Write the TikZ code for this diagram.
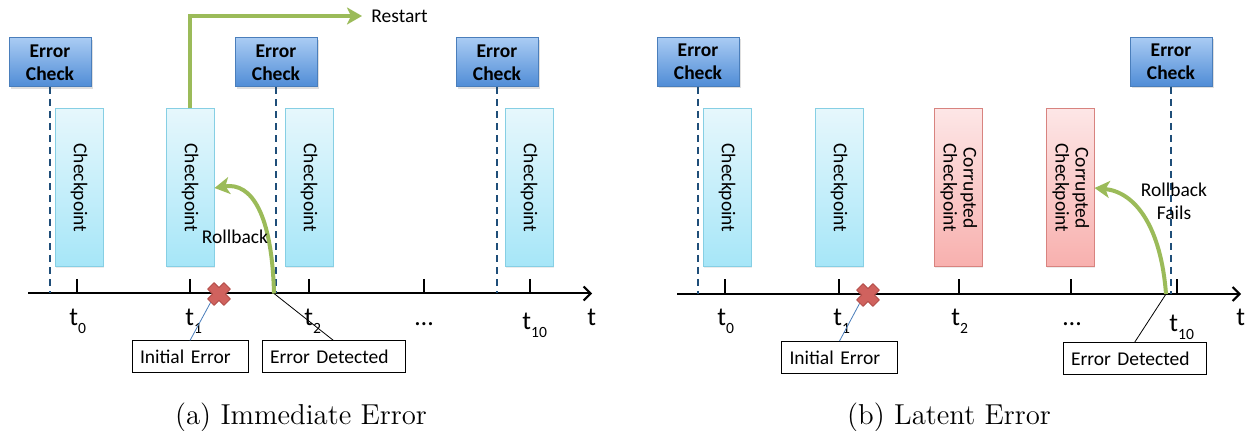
\documentclass[tikz,border=0pt]{standalone}
\usepackage{fontspec}
\usepackage{graphicx}
\newfontfamily\calfont{Carlito}
\usetikzlibrary{arrows.meta,shadows}

\definecolor{ecTop}{HTML}{A9CBF3}
\definecolor{ecBot}{HTML}{4F8CD6}
\definecolor{ecLine}{HTML}{4A7EBB}
\definecolor{cpTop}{HTML}{E6F7FC}
\definecolor{cpBot}{HTML}{A6E6F8}
\definecolor{cpLine}{HTML}{86CFE4}
\definecolor{rcTop}{HTML}{FDE6E6}
\definecolor{rcBot}{HTML}{F8B0AE}
\definecolor{rcLine}{HTML}{D8837F}
\definecolor{dashBlue}{HTML}{1F4E79}
\definecolor{arrGreen}{HTML}{9BBB59}
\definecolor{xFill}{HTML}{D0625E}
\definecolor{xLine}{HTML}{B5504C}

% lowered index after a time label
\newcommand\ticksub[1]{\raisebox{-3.8pt}{\fontsize{7.8}{7.8}\selectfont #1}}

\begin{document}
\begin{tikzpicture}[x=0.5pt,y=-0.5pt,
  errcheck/.style={draw=ecLine, line width=0.5pt, top color=ecTop, bottom color=ecBot,
    minimum width=41pt, minimum height=24.5pt, inner sep=0pt, align=center,
    font=\calfont\bfseries\fontsize{9.75}{11.5}\selectfont,
    drop shadow={shadow xshift=0.8pt, shadow yshift=-0.8pt, opacity=0.25}},
  cpbox/.style={draw=cpLine, line width=0.5pt, top color=cpTop, bottom color=cpBot,
    minimum width=24pt, minimum height=79pt, inner sep=0pt,
    font=\calfont\fontsize{9.75}{11}\selectfont,
    drop shadow={shadow xshift=0.6pt, shadow yshift=-0.6pt, opacity=0.15}},
  badbox/.style={cpbox, draw=rcLine, top color=rcTop, bottom color=rcBot},
  callout/.style={draw=black, line width=0.5pt, fill=white, minimum height=16pt,
    inner xsep=4pt, inner ysep=0pt, align=left,
    font=\calfont\fontsize{9.75}{11}\selectfont},
  plain/.style={inner sep=0pt, font=\calfont\fontsize{9.75}{11.5}\selectfont},
  tlab/.style={anchor=base west, inner sep=0pt, font=\calfont\fontsize{13}{13}\selectfont},
  dots/.style={anchor=base, inner sep=0pt, font=\calfont\fontsize{13}{13}\selectfont},
  axisline/.style={line width=1pt, -{Straight Barb[length=3.5pt,width=7pt]}},
  tickmark/.style={line width=0.8pt},
  checkline/.style={dashBlue, line width=1pt, dash pattern=on 3.5pt off 2.5pt},
  flow/.style={arrGreen, line width=2pt, -{Stealth[length=7.5pt,width=8.5pt,inset=2pt]}},
  pointer/.style={line width=0.4pt},
  xnode/.style={shape=rectangle, minimum size=8pt, inner sep=0pt},
  xmark/.style={fill=xFill, draw=xLine, line width=0.5pt, line join=round},
  caption/.style={anchor=base, inner sep=0pt, font=\fontsize{14.4}{16}\selectfont}
]
\useasboundingbox (0,0) rectangle (1245,431);

% ---------------- (a) Immediate Error ----------------
\coordinate (a1s) at (28,293.5);
\coordinate (a1e) at (592,293.5);
\draw[axisline] (a1s) -- (a1e);
\foreach \x in {77,190,309,424,530} \draw[tickmark] (\x,279) -- (\x,293.5);

\node[errcheck] (ec1) at (50,62.5) {Error\\Check};
\node[errcheck] (ec2) at (276,62.5) {Error\\Check};
\node[errcheck] (ec3) at (497,62.5) {Error\\Check};
\foreach \n in {ec1,ec2,ec3} \draw[checkline] (\n.south) -- (\n.south |- a1s);

\node[cpbox] (cp1) at (79,188) {\rotatebox{-90}{Checkpoint}};
\node[cpbox] (cp2) at (190,188) {\rotatebox{-90}{Checkpoint}};
\node[cpbox] (cp3) at (309,188) {\rotatebox{-90}{Checkpoint}};
\node[cpbox] (cp4) at (529,188) {\rotatebox{-90}{Checkpoint}};

\node[tlab] (a1t0) at (69,326) {t\ticksub{0}};
\node[tlab] (a1t1) at (185,326) {t\ticksub{1}};
\node[tlab] (a1t2) at (304,326) {t\ticksub{2}};
\node[dots] (a1dd) at (424,326) {…};
\node[tlab] (a1t10) at (522,330) {t\ticksub{10}};
\node[tlab] (a1t) at (587,326) {t};

% restart path out of the checkpoint before the error
\node[plain, anchor=west, inner xsep=4.5pt] (rs) at (362,16) {Restart};
\draw[flow] (cp2.north) |- (rs.west);

% error marks and callouts
\node[callout, text width=50pt] (ie1) at (190,357) {Initial Error};
\node[callout, text width=63.5pt] (ed1) at (333.5,357) {Error Detected};
\node[xnode] (x1) at (219,294) {};
\coordinate (det1) at (274,293.5);
\draw[pointer, ecLine] (ie1.north) -- (x1.south west);
\draw[pointer] (ed1.north) -- (det1);
\filldraw[xmark, shift={(x1.center)}, rotate=45]
  (-4.5,-11.5) -- (4.5,-11.5) -- (4.5,-4.5) -- (11.5,-4.5) -- (11.5,4.5) -- (4.5,4.5)
  -- (4.5,11.5) -- (-4.5,11.5) -- (-4.5,4.5) -- (-11.5,4.5) -- (-11.5,-4.5) -- (-4.5,-4.5) -- cycle;

\draw[flow] (det1) .. controls (272,215) and (252,182) .. (cp2.east);
\node[plain] (rb1) at (235,237) {Rollback};

\node[caption] (capa) at (301,425) {(a) Immediate Error};

% ---------------- (b) Latent Error ----------------
\coordinate (a2s) at (677,294);
\coordinate (a2e) at (1241,294);
\draw[axisline] (a2s) -- (a2e);
\foreach \x in {725,839,959,1071,1177} \draw[tickmark] (\x,279.5) -- (\x,294);

\node[errcheck] (ec4) at (698,62) {Error\\Check};
\node[errcheck] (ec5) at (1171,62) {Error\\Check};
\foreach \n in {ec4,ec5} \draw[checkline] (\n.south) -- (\n.south |- a2s);

\node[cpbox] (cp5) at (727,188) {\rotatebox{-90}{Checkpoint}};
\node[cpbox] (cp6) at (839,188) {\rotatebox{-90}{Checkpoint}};
\node[badbox] (rc1) at (958,188) {\rotatebox{-90}{\begin{tabular}{@{}c@{}}Corrupted\\[-1pt]Checkpoint\end{tabular}}};
\node[badbox] (rc2) at (1070,188) {\rotatebox{-90}{\begin{tabular}{@{}c@{}}Corrupted\\[-1pt]Checkpoint\end{tabular}}};

\node[tlab] (a2t0) at (717,326) {t\ticksub{0}};
\node[tlab] (a2t1) at (833,326) {t\ticksub{1}};
\node[tlab] (a2t2) at (951,326) {t\ticksub{2}};
\node[dots] (a2dd) at (1072,326) {…};
\node[tlab] (a2t10) at (1169,332) {t\ticksub{10}};
\node[tlab] (a2t) at (1236,326) {t};

\node[callout, text width=50pt] (ie2) at (839.5,357.5) {Initial Error};
\node[callout, text width=63.5pt] (ed2) at (1134.5,359) {Error Detected};
\node[xnode] (x2) at (868,295) {};
\coordinate (det2) at (1166,294);
\draw[pointer, ecLine] (ie2.north) -- (x2.south west);
\draw[pointer] (ed2.north) -- (det2);
\filldraw[xmark, shift={(x2.center)}, rotate=45]
  (-4.5,-11.5) -- (4.5,-11.5) -- (4.5,-4.5) -- (11.5,-4.5) -- (11.5,4.5) -- (4.5,4.5)
  -- (4.5,11.5) -- (-4.5,11.5) -- (-4.5,4.5) -- (-11.5,4.5) -- (-11.5,-4.5) -- (-4.5,-4.5) -- cycle;

\draw[flow] (det2) .. controls (1161,228) and (1136,192) .. (rc2.east);
\node[plain, align=center] (rb2) at (1174,201) {Rollback\\Fails};

\node[caption] (capb) at (949,425) {(b) Latent Error};
\end{tikzpicture}
\end{document}
